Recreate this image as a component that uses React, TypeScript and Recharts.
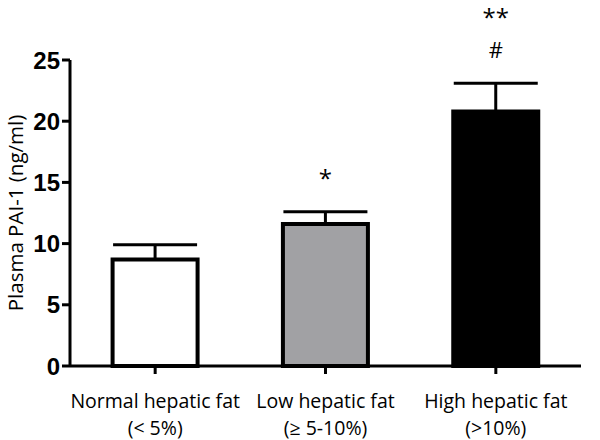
import React from 'react'
import { BarChart, Bar, XAxis, YAxis, Cell, ErrorBar, LabelList } from 'recharts'

const groups = ['Normal hepatic fat', 'Low hepatic fat', 'High hepatic fat']
const groupRanges = ['(< 5%)', '(\u2265 5-10%)', '(>10%)']
const means = [8.7, 11.6, 20.8]
const sems = [1.2, 1.0, 2.3]
const marks = [[], ['*'], ['#', '**']]
const fills = ['#ffffff', '#a1a1a4', '#000000']
const yTicks = [0, 5, 10, 15, 20, 25]

const data = groups.map((g, i) => ({
  name: g,
  range: groupRanges[i],
  value: means[i],
  err: [0, sems[i]],
  idx: i,
}))

const labelFont = 'Open Sans, Noto Sans, sans-serif'

const CategoryTick = (props: any) => {
  const { x, y, payload, index } = props
  return (
    <text x={x} y={y} textAnchor="middle" fill="#000" fontFamily={labelFont} fontSize={19.5}>
      <tspan x={x} dy={32}>{payload.value}</tspan>
      <tspan x={x} dy={27}>{groupRanges[index]}</tspan>
    </text>
  )
}

// draws significance marks above the error bar cap
const SigMarks = (props: any) => {
  const { x, y, width, height, index } = props
  const m = marks[index]
  if (!m || m.length === 0) return null
  const pxPerUnit = height / means[index]
  const capY = y - sems[index] * pxPerUnit
  const cx = x + width / 2
  return (
    <g>
      {m.map((s: string, k: number) => (
        <text key={k} x={cx} y={capY - 25 - k * 32} textAnchor="middle" fill="#000"
          fontFamily={labelFont} fontSize={s === '#' ? 22 : 24}>
          {s}
        </text>
      ))}
    </g>
  )
}

export default function App() {
  return (
    <div style={{ position: 'absolute', left: 0, top: 0, background: '#fff' }}>
      <BarChart width={600} height={440} data={data}
        margin={{ top: 60, right: 19, left: 0, bottom: 0 }} barCategoryGap="25%">
        <XAxis dataKey="name" tick={<CategoryTick />} tickLine={{ stroke: '#000', strokeWidth: 3 }}
          axisLine={{ stroke: '#000', strokeWidth: 3 }} tickSize={8} interval={0} height={74} />
        <YAxis domain={[0, 25]} ticks={yTicks} width={70} tickSize={8}
          tickLine={{ stroke: '#000', strokeWidth: 3 }} axisLine={{ stroke: '#000', strokeWidth: 3 }}
          tick={{ fill: '#000', fontSize: 24, fontWeight: 'bold', fontFamily: 'Liberation Sans, Arial, sans-serif' }}
          label={{ value: 'Plasma PAI-1 (ng/ml)', angle: -90, position: 'insideLeft', offset: 16,
            style: { textAnchor: 'middle', fontFamily: labelFont, fontSize: 20.5, fill: '#000' } }} />
        <Bar dataKey="value" stroke="#000" strokeWidth={4} isAnimationActive={false}>
          {data.map((d, i) => <Cell key={i} fill={fills[i]} />)}
          <ErrorBar dataKey="err" width={42} stroke="#000" strokeWidth={3} direction="y" />
          <LabelList dataKey="idx" content={<SigMarks />} />
        </Bar>
      </BarChart>
    </div>
  )
}
